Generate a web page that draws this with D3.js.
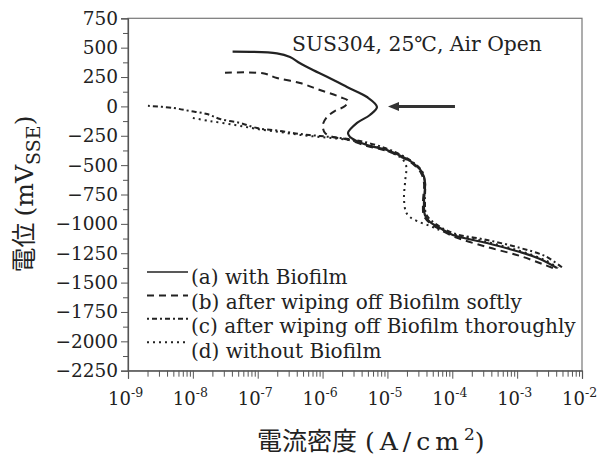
<!DOCTYPE html>
<html>
<head>
<meta charset="utf-8">
<script src="https://cdn.jsdelivr.net/npm/d3@7"></script>
<style>
  body { margin: 0; background: #fff; }
  svg text { font-family: "DejaVu Serif", "Noto Sans CJK JP", serif; fill: #222; }
</style>
</head>
<body>
<svg id="chart" width="598" height="461"></svg>
<script>
// polarization curves, current density (A/cm2) vs potential (mV SSE)
const currentA = [4.1e-8, 1.98e-7, 3.15e-7, 4.5e-7, 7.1e-7, 1.17e-6, 2.38e-6, 4.84e-6, 6.9e-6, 5.37e-6, 3.4e-6, 2.47e-6, 2.65e-6, 4.84e-6, 9.84e-6, 1.74e-5, 2.48e-5, 3.41e-5, 3.79e-5, 3.66e-5, 3.79e-5, 4.53e-5, 6.46e-5, 1.02e-4, 3.43e-4, 1.11e-3, 2.25e-3, 4.11e-3];
const potentialA = [466, 452, 421, 367, 310, 253, 165, 80, -5, -73, -141, -226, -260, -329, -371, -431, -482, -558, -644, -814, -925, -984, -1035, -1095, -1163, -1240, -1299, -1376];

const currentB = [3.13e-8, 1.2e-7, 1.98e-7, 4.49e-7, 9.1e-7, 1.86e-6, 2.47e-6, 2.22e-6, 1.55e-6, 1.17e-6, 1.01e-6, 1.09e-6, 1.45e-6, 2.22e-6, 4.84e-6, 9.84e-6, 1.74e-5, 2.48e-5, 3.29e-5, 3.66e-5, 3.53e-5, 3.66e-5, 4.7e-5, 6.7e-5, 1.1e-4, 3.43e-4, 1.11e-3, 2.69e-3, 3.57e-3];
const potentialB = [287, 282, 242, 199, 140, 80, 46, 3, -39, -90, -158, -226, -260, -277, -337, -380, -439, -490, -567, -652, -822, -933, -1001, -1052, -1112, -1197, -1273, -1350, -1376];

const currentC = [2.03e-9, 4.94e-9, 9.0e-9, 1.65e-8, 2.62e-8, 5.33e-8, 9.75e-8, 2.21e-7, 4.49e-7, 9.1e-7, 1.86e-6, 3.78e-6, 9.2e-6, 1.74e-5, 2.57e-5, 3.41e-5, 3.79e-5, 3.79e-5, 3.94e-5, 4.86e-5, 1.02e-4, 3.43e-4, 1.11e-3, 2.69e-3, 5.09e-3];
const potentialC = [5, -13, -39, -65, -107, -141, -184, -209, -235, -252, -269, -294, -354, -422, -482, -550, -644, -814, -916, -976, -1078, -1137, -1205, -1274, -1376];

const currentD = [1.0e-8, 1.84e-8, 4.47e-8, 9.75e-8, 2.21e-7, 4.49e-7, 9.1e-7, 1.86e-6, 3.78e-6, 9.2e-6, 1.56e-5, 1.93e-5, 1.87e-5, 1.8e-5, 1.93e-5, 2.23e-5, 2.86e-5, 4.53e-5, 7.7e-5, 3.43e-4, 1.11e-3, 2.69e-3, 4.27e-3];
const potentialD = [-99, -125, -158, -192, -218, -243, -260, -277, -303, -371, -431, -499, -644, -780, -899, -942, -976, -1018, -1069, -1154, -1231, -1308, -1376];

const legendLabels = ["(a) with Biofilm", "(b) after wiping off Biofilm softly", "(c) after wiping off Biofilm thoroughly", "(d) without Biofilm"];
const yTickValues = [750, 500, 250, 0, -250, -500, -750, -1000, -1250, -1500, -1750, -2000, -2250];
const xTickExponents = [-9, -8, -7, -6, -5, -4, -3, -2];

const width = 598;
const height = 461;
const margin = { top: 18.3, right: 16, bottom: 90, left: 128 };
const innerW = width - margin.left - margin.right;
const innerH = 352.4;

const svg = d3.select("#chart");
const g = svg.append("g").attr("transform", `translate(${margin.left},${margin.top})`);

const x = d3.scaleLog().domain([1e-9, 1e-2]).range([0, innerW]);
const y = d3.scaleLinear().domain([-2250, 750]).range([innerH, 0]);

// frame
g.append("rect")
  .attr("width", innerW).attr("height", innerH)
  .attr("fill", "none").attr("stroke", "#777").attr("stroke-width", 1.2);

// y axis, major + minor ticks
const yMinor = d3.range(-2250, 751, 125).filter(v => !yTickValues.includes(v));
g.append("g")
  .call(d3.axisLeft(y).tickValues(yMinor).tickSize(5).tickFormat(""))
  .call(a => a.select(".domain").remove())
  .selectAll("line").attr("stroke", "#555");
const yAxis = g.append("g")
  .call(d3.axisLeft(y).tickValues(yTickValues).tickSize(7).tickPadding(3)
    .tickFormat(d => d < 0 ? "\u2212" + Math.abs(d) : d));
yAxis.select(".domain").attr("stroke", "#555").attr("stroke-width", 1.2);
yAxis.selectAll("line").attr("stroke", "#555");
yAxis.selectAll("text").attr("font-size", 18.5).attr("fill", "#222");

// x axis log ticks
const xMinor = [];
xTickExponents.slice(0, -1).forEach(e => {
  for (let k = 2; k <= 9; k++) xMinor.push(k * Math.pow(10, e));
});
g.append("g").attr("transform", `translate(0,${innerH})`)
  .call(d3.axisBottom(x).tickValues(xMinor).tickSize(6).tickFormat(""))
  .call(a => a.select(".domain").remove())
  .selectAll("line").attr("stroke", "#555");
const xAxis = g.append("g").attr("transform", `translate(0,${innerH})`)
  .call(d3.axisBottom(x).tickValues(xTickExponents.map(e => Math.pow(10, e))).tickSize(8).tickFormat(""));
xAxis.select(".domain").attr("stroke", "#555").attr("stroke-width", 1.2);
xAxis.selectAll("line").attr("stroke", "#555");

// "10" sits left of the tick, exponent to its right
xTickExponents.forEach(e => {
  const t = g.append("text")
    .attr("x", x(Math.pow(10, e)) - 20)
    .attr("y", innerH + 34)
    .attr("font-size", 18);
  t.append("tspan").text("10");
  t.append("tspan").attr("font-size", 12.5).attr("dy", -8).text("-" + Math.abs(e));
});

// curves
const series = [
  { cur: currentA, pot: potentialA, dash: null, w: 2.2 },
  { cur: currentB, pot: potentialB, dash: "7,5", w: 2 },
  { cur: currentC, pot: potentialC, dash: "2,3,5,3", w: 2 },
  { cur: currentD, pot: potentialD, dash: "2,4", w: 2 }
];
const line = d3.line()
  .x(d => x(d[0]))
  .y(d => y(d[1]))
  .curve(d3.curveCatmullRom.alpha(0.5));

series.forEach(s => {
  g.append("path")
    .datum(s.cur.map((c, i) => [c, s.pot[i]]))
    .attr("d", line)
    .attr("fill", "none")
    .attr("stroke", "#222")
    .attr("stroke-width", s.w)
    .attr("stroke-dasharray", s.dash);
});

// arrow pointing at the curves
const arrowY = y(0);
const ax0 = x(1.02e-5), ax1 = x(1.1e-4);
g.append("line")
  .attr("x1", ax0 + 6).attr("x2", ax1)
  .attr("y1", arrowY).attr("y2", arrowY)
  .attr("stroke", "#333").attr("stroke-width", 3);
g.append("path")
  .attr("d", `M${ax0},${arrowY} L${ax0 + 11},${arrowY - 4.5} L${ax0 + 11},${arrowY + 4.5} Z`)
  .attr("fill", "#333");

// title
svg.append("text")
  .attr("x", 292).attr("y", 51)
  .attr("font-size", 20.3)
  .text("SUS304, 25\u2103, Air Open");

// legend
const legend = svg.append("g");
legendLabels.forEach((lab, i) => {
  const ly = 272 + i * 23.4;
  legend.append("line")
    .attr("x1", 147).attr("x2", 188)
    .attr("y1", ly).attr("y2", ly)
    .attr("stroke", "#222")
    .attr("stroke-width", series[i].dash ? 2 : 1.6)
    .attr("stroke-dasharray", series[i].dash);
  legend.append("text")
    .attr("x", 191).attr("y", 284 + i * 24.6)
    .attr("font-size", 20)
    .text(lab);
});

// axis titles
const xt = svg.append("text")
  .attr("x", 257).attr("y", 450)
  .attr("font-size", 25);
xt.append("tspan").attr("font-family", "Noto Sans CJK JP").text("電流密度");
xt.append("tspan").attr("dx", 8).attr("letter-spacing", 5).text("(A/cm");
xt.append("tspan").attr("font-size", 17).attr("dy", -10).text("2");
xt.append("tspan").attr("dy", 10).text(")");

const yt = svg.append("text")
  .attr("transform", "translate(33,194) rotate(-90)")
  .attr("text-anchor", "middle")
  .attr("font-size", 25);
yt.append("tspan").attr("font-family", "Noto Sans CJK JP").text("電位");
yt.append("tspan").attr("dx", 6).text("(mV");
yt.append("tspan").attr("font-size", 19).attr("dy", 7).text("SSE");
yt.append("tspan").attr("dy", -7).text(")");
</script>
</body>
</html>
